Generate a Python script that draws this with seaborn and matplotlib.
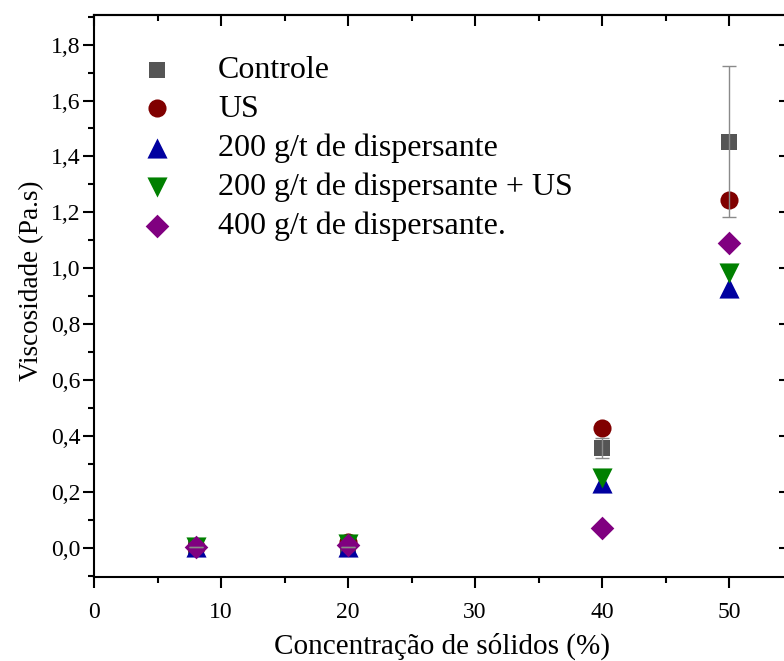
import matplotlib
matplotlib.use("Agg")
import matplotlib.pyplot as plt
from matplotlib.ticker import MultipleLocator, FuncFormatter
import seaborn as sns

# Concentração de sólidos (%)
CONCENTRATION = [8, 20, 40, 50]

# Viscosidade (Pa.s) per treatment
CONTROLE = [0.005, 0.005, 0.357, 1.452]
CONTROLE_ERR = [0.0, 0.0, 0.036, 0.27]
US = [0.005, 0.02, 0.429, 1.243]
DISP_200 = [0.005, 0.005, 0.232, 0.928]
DISP_200_US = [0.005, 0.015, 0.25, 0.982]
DISP_400 = [0.005, 0.01, 0.072, 1.092]

LABELS = ["Controle", "US", "200 g/t de dispersante",
          "200 g/t de dispersante + US", "400 g/t de dispersante."]

sns.set_theme(style="ticks",
              rc={"text.color": "black",
                  "axes.labelcolor": "black",
                  "xtick.color": "black",
                  "ytick.color": "black"})
plt.rcParams["font.family"] = ["Liberation Serif", "DejaVu Serif"]

fig = plt.figure(figsize=(7.84, 6.61), dpi=100)
# right spine sits just past the image edge, like the original
ax = fig.add_axes([0.12, 0.127, 0.8878, 0.85])

series = [
    (CONTROLE, LABELS[0], "s", "#555555", 140),
    (US, LABELS[1], "o", "#800000", 170),
    (DISP_200, LABELS[2], "^", "#0000a0", 210),
    (DISP_200_US, LABELS[3], "v", "#008000", 210),
    (DISP_400, LABELS[4], "D", "#800080", 145),
]

for values, label, marker, color, size in series:
    sns.scatterplot(x=CONCENTRATION, y=values, marker=marker, color=color,
                    s=size, linewidth=0, label=label, ax=ax, zorder=3)

# error bars only on the control series
ax.errorbar(CONCENTRATION, CONTROLE, yerr=CONTROLE_ERR, fmt="none",
            ecolor="#8a8a8a", elinewidth=1, capsize=5, capthick=1, zorder=4)

ax.set_xlim(0, 54.8)
ax.set_ylim(-0.104, 1.905)
ax.xaxis.set_major_locator(MultipleLocator(10))
ax.xaxis.set_minor_locator(MultipleLocator(5))
ax.yaxis.set_major_locator(MultipleLocator(0.2))
ax.yaxis.set_minor_locator(MultipleLocator(0.1))
ax.yaxis.set_major_formatter(FuncFormatter(lambda v, p: f"{v:.1f}".replace(".", ",")))

for side in ["left", "right", "top", "bottom"]:
    ax.spines[side].set_linewidth(1.5)
    ax.spines[side].set_color("black")

ax.tick_params(axis="both", which="major", direction="out", length=8, width=1.5,
               labelsize=17, colors="black")
ax.tick_params(axis="both", which="minor", direction="out", length=4, width=1.5)
ax.xaxis.set_tick_params(which="both", pad=10)
ax.yaxis.set_tick_params(which="major", pad=2)

# mirrored ticks on top/right point inwards, no labels
top = ax.secondary_xaxis("top")
top.xaxis.set_major_locator(MultipleLocator(10))
top.xaxis.set_minor_locator(MultipleLocator(5))
top.tick_params(which="major", direction="in", length=8, width=1.5, labeltop=False)
top.tick_params(which="minor", direction="in", length=4, width=1.5)
top.spines["top"].set_linewidth(1.5)

right = ax.secondary_yaxis("right")
right.yaxis.set_major_locator(MultipleLocator(0.2))
right.yaxis.set_minor_locator(MultipleLocator(0.1))
right.tick_params(which="major", direction="in", length=8, width=1.5, labelright=False)
right.tick_params(which="minor", direction="in", length=4, width=1.5)
right.spines["right"].set_linewidth(1.5)

ax.set_xlabel("Concentração de sólidos (%)", fontsize=21, labelpad=7)
ax.set_ylabel("Viscosidade (Pa.s)", fontsize=19.5)
ax.yaxis.set_label_coords(-0.072, 0.527)

ax.legend(loc="upper left", bbox_to_anchor=(0.013, 0.968), frameon=False,
          fontsize=23, labelspacing=0.3, handletextpad=0.9, borderpad=0.2,
          handlelength=2.0, markerscale=1.0)

fig.savefig("out.png", dpi=100)
